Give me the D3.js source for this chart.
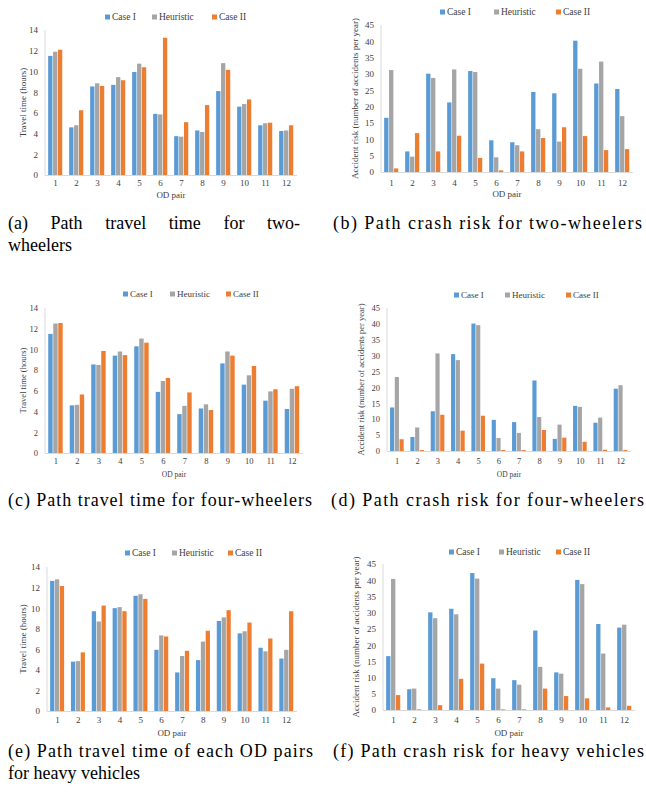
<!DOCTYPE html>
<html><head><meta charset="utf-8">
<script src="https://cdn.jsdelivr.net/npm/d3@7"></script>
<style>
body{margin:0;background:#fff;}
svg{display:block;}
text{font-family:"Liberation Serif","Times New Roman",serif;}
</style></head>
<body>
<svg id="c" width="646" height="796"></svg>
<script>
// ---------- DATA ----------
const odPairs = ["1","2","3","4","5","6","7","8","9","10","11","12"];
const seriesNames = ["Case I","Heuristic","Case II"];
const timeTicks = [0,2,4,6,8,10,12,14];
const riskTicks = [0,5,10,15,20,25,30,35,40,45];

// (a) travel time, two-wheelers
const ttTwoCaseI  = [11.5,4.6,8.55,8.7,9.95,5.9,3.75,4.3,8.1,6.6,4.8,4.25];
const ttTwoHeur   = [11.9,4.8,8.85,9.45,10.75,5.85,3.7,4.15,10.8,6.85,5.0,4.3];
const ttTwoCaseII = [12.1,6.25,8.6,9.15,10.4,13.25,5.1,6.75,10.15,7.3,5.05,4.8];
// (b) crash risk, two-wheelers
const crTwoCaseI  = [16.6,6.3,30.1,21.3,30.9,9.7,9.1,24.5,24.1,40.2,27.1,25.4];
const crTwoHeur   = [31.2,4.7,28.8,31.4,30.6,4.5,8.2,13.1,9.3,31.6,33.8,17.1];
const crTwoCaseII = [1.1,11.9,6.3,11.1,4.3,0.5,6.3,10.4,13.7,11.0,6.7,7.0];
// (c) travel time, four-wheelers
const ttFourCaseI  = [11.5,4.6,8.55,9.4,10.3,5.9,3.75,4.3,8.65,6.6,5.05,4.25];
const ttFourHeur   = [12.5,4.65,8.5,9.8,11.05,6.95,4.55,4.7,9.8,7.5,5.95,6.2];
const ttFourCaseII = [12.55,5.65,9.85,9.45,10.65,7.25,5.85,4.15,9.4,8.4,6.15,6.45];
// (d) crash risk, four-wheelers
const crFourCaseI  = [13.7,4.4,12.5,30.5,40.1,9.8,9.1,22.2,3.8,14.2,8.9,19.6];
const crFourHeur   = [23.3,7.4,30.7,28.6,39.6,4.1,5.7,10.7,8.3,13.9,10.5,20.7];
const crFourCaseII = [3.7,0.3,11.4,6.4,11.1,0.3,0.3,6.6,4.2,2.9,0.4,0.3];
// (e) travel time, heavy vehicles
const ttHeavyCaseI  = [12.65,4.8,9.7,10.0,11.2,5.95,3.75,4.95,8.75,7.55,6.15,5.1];
const ttHeavyHeur   = [12.8,4.85,8.7,10.1,11.35,7.35,5.35,6.75,9.1,7.75,5.8,5.95];
const ttHeavyCaseII = [12.15,5.7,10.25,9.7,10.9,7.25,5.85,7.8,9.8,8.6,7.05,9.7];
// (f) crash risk, heavy vehicles
const crHeavyCaseI  = [16.6,6.4,30.1,31.2,42.2,9.8,9.2,24.5,11.6,40.1,26.5,25.4];
const crHeavyHeur   = [40.4,6.6,28.3,29.5,40.5,6.6,7.8,13.3,11.2,38.8,17.4,26.3];
const crHeavyCaseII = [4.6,0.2,1.5,9.6,14.3,0.2,0.2,6.6,4.3,3.6,0.8,1.3];

const ttTitle = "Travel time (hours)";
const crTitle = "Accident risk (number of accidents per year)";
const xTitle = "OD pair";

// ---------- STYLE / LAYOUT ----------
const colors = ["#5B9BD5","#A5A5A5","#ED7D31"];
const svg = d3.select("#c");

const panels = [
  {series:[ttTwoCaseI,ttTwoHeur,ttTwoCaseII], max:14, ticks:timeTicks, title:ttTitle,
   x0:45,x1:297,top:30,bottom:175, legY:17, legX:[105,152,212], yTitleX:23, tickY:183, odY:195, fs:9},
  {series:[crTwoCaseI,crTwoHeur,crTwoCaseII], max:45, ticks:riskTicks, title:crTitle,
   x0:381,x1:633,top:25,bottom:172, legY:12, legX:[440,494,556], yTitleX:355, tickY:183, odY:194, fs:9},
  {series:[ttFourCaseI,ttFourHeur,ttFourCaseII], max:14, ticks:timeTicks, title:ttTitle,
   x0:45,x1:303,top:308,bottom:453, legY:294, legX:[123,170,226], yTitleX:23, tickY:461, odY:474, fs:8.5, odFs:7.5},
  {series:[crFourCaseI,crFourHeur,crFourCaseII], max:45, ticks:riskTicks, title:crTitle,
   x0:387,x1:631,top:308,bottom:451, legY:295, legX:[454,505,566], yTitleX:361, tickY:461, odY:474, fs:8.5, odFs:7.5},
  {series:[ttHeavyCaseI,ttHeavyHeur,ttHeavyCaseII], max:14, ticks:timeTicks, title:ttTitle,
   x0:47,x1:297,top:567,bottom:711, legY:553, legX:[125,172,228], yTitleX:23, tickY:720, odY:733, fs:9},
  {series:[crHeavyCaseI,crHeavyHeur,crHeavyCaseII], max:45, ticks:riskTicks, title:crTitle,
   x0:383,x1:635,top:564,bottom:710, legY:552, legX:[449,499,556], yTitleX:356, tickY:720, odY:733, fs:9}
];

panels.forEach(p => {
  const g = svg.append("g");
  const x = d3.scaleBand().domain(odPairs).range([p.x0,p.x1]).paddingInner(0.3).paddingOuter(0.15);
  const xs = d3.scaleBand().domain(seriesNames).range([0,x.bandwidth()]);
  const y = d3.scaleLinear().domain([0,p.max]).range([p.bottom,p.top]);

  const ya = d3.axisLeft(y).tickValues(p.ticks).tickSize(0).tickPadding(7);
  const yg = g.append("g").attr("transform",`translate(${p.x0},0)`).call(ya);
  yg.select(".domain").remove();
  yg.selectAll("text").attr("font-size",p.fs).attr("fill","#404040")
    .style("font-family","'Liberation Serif',serif");
  g.append("line").attr("x1",p.x0).attr("x2",p.x0).attr("y1",p.top).attr("y2",p.bottom)
    .attr("stroke","#d9d9d9").attr("stroke-width",1);

  seriesNames.forEach((s,i) => {
    g.append("g").selectAll("rect").data(p.series[i]).join("rect")
      .attr("x",(d,j)=>x(odPairs[j])+xs(s))
      .attr("width",xs.bandwidth()-0.6)
      .attr("y",d=>y(d))
      .attr("height",d=>y(0)-y(d))
      .attr("fill",colors[i]);
  });
  g.append("line").attr("x1",p.x0).attr("x2",p.x1).attr("y1",p.bottom+0.5).attr("y2",p.bottom+0.5)
    .attr("stroke","#d9d9d9").attr("stroke-width",1);

  const xa = d3.axisBottom(x).tickSize(0).tickPadding(0);
  const xg = g.append("g").attr("transform",`translate(0,${p.tickY})`).call(xa);
  xg.select(".domain").remove();
  xg.selectAll("text").attr("dy","0.35em").attr("y",0).attr("font-size",p.fs).attr("fill","#404040")
    .style("font-family","'Liberation Serif',serif");

  g.append("text").attr("x",(p.x0+p.x1)/2).attr("y",p.odY).attr("dy","0.35em")
    .attr("text-anchor","middle").attr("font-size",p.odFs||9).attr("fill","#404040").text(xTitle);

  g.append("text").attr("transform",`translate(${p.yTitleX},${(p.top+p.bottom)/2}) rotate(-90)`)
    .attr("dy","0.35em").attr("text-anchor","middle").attr("font-size",p.fs).attr("fill","#404040")
    .text(p.title);

  seriesNames.forEach((s,i) => {
    g.append("rect").attr("x",p.legX[i]).attr("y",p.legY-2.5).attr("width",5).attr("height",5).attr("fill",colors[i]);
    g.append("text").attr("x",p.legX[i]+7).attr("y",p.legY).attr("dy","0.35em")
      .attr("font-size",p.fs+0.5).attr("fill","#404040").text(s);
  });
});

// captions
const captions = [
  {t:"(a) Path travel time for two-", x:8, y:229, w:292, justify:true},
  {t:"wheelers", x:8, y:251},
  {t:"(b) Path crash risk for two-wheelers", x:333, y:229, w:309},
  {t:"(c) Path travel time for four-wheelers", x:8, y:506, w:304},
  {t:"(d) Path crash risk for four-wheelers", x:331, y:506, w:313},
  {t:"(e) Path travel time of each OD pairs", x:8, y:757, w:305},
  {t:"for heavy vehicles", x:8, y:779},
  {t:"(f) Path crash risk for heavy vehicles", x:333, y:757, w:311}
];
captions.forEach(c => {
  if (c.justify) {
    const words = c.t.split(" ");
    const nodes = words.map(w => svg.append("text").attr("y",c.y).attr("font-size",18).attr("fill","#000").text(w));
    const widths = nodes.map(n => n.node().getComputedTextLength());
    const gap = (c.w - d3.sum(widths)) / (words.length - 1);
    let cx = c.x;
    nodes.forEach((n,i) => { n.attr("x",cx); cx += widths[i] + gap; });
  } else {
    const t = svg.append("text").attr("x",c.x).attr("y",c.y).attr("font-size",18).attr("fill","#000").text(c.t);
    if (c.w) t.attr("textLength",c.w).attr("lengthAdjust","spacing");
  }
});
</script>
</body></html>
